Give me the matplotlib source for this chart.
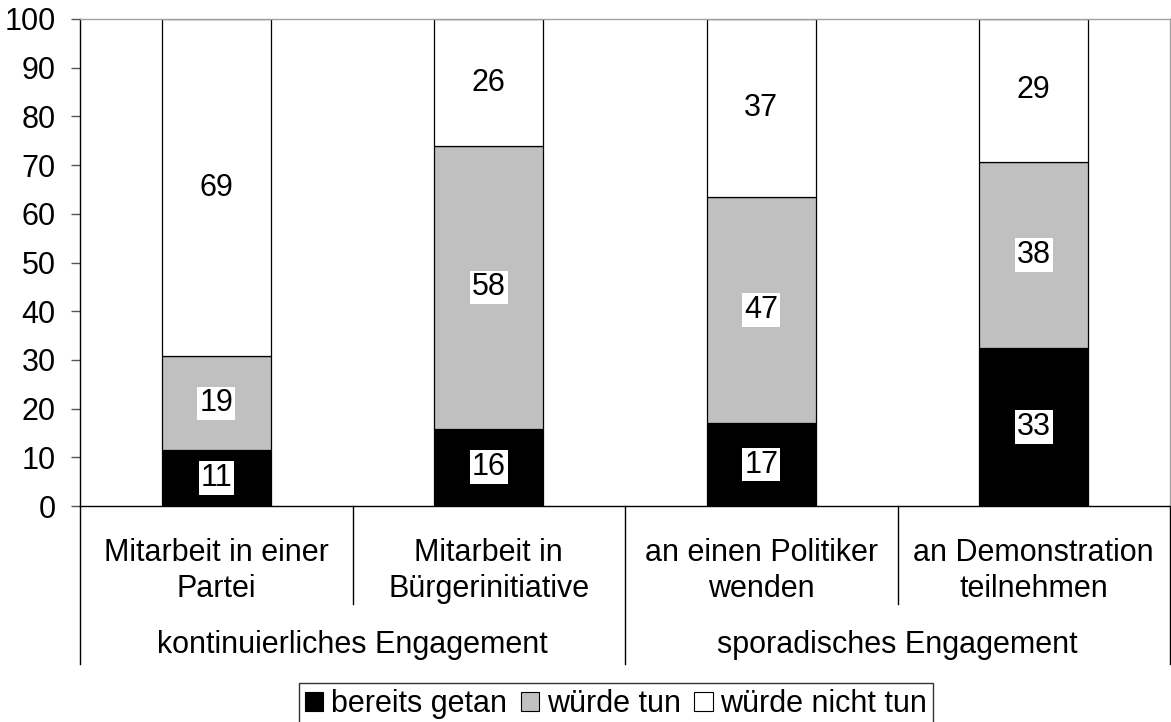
import matplotlib
matplotlib.use("Agg")
import matplotlib.pyplot as plt
from matplotlib.patches import Patch
from matplotlib.lines import Line2D
import matplotlib.transforms as mtransforms

plt.rcParams['font.family'] = ['Liberation Sans', 'DejaVu Sans']

# ---- data ----
categories = ["Mitarbeit in einer\nPartei", "Mitarbeit in\nBürgerinitiative",
              "an einen Politiker\nwenden", "an Demonstration\nteilnehmen"]
groups = ["kontinuierliches Engagement", "sporadisches Engagement"]
series_names = ["bereits getan", "würde tun", "würde nicht tun"]
bereits = [11.4, 15.9, 17.0, 32.5]
wuerde = [19.3, 58.0, 46.4, 38.2]
nicht = [69.3, 26.1, 36.6, 29.3]
bereits_lbl = [11, 16, 17, 33]
wuerde_lbl = [19, 58, 47, 38]
nicht_lbl = [69, 26, 37, 29]
yticks = list(range(0, 101, 10))

colors = ["#000000", "#c0c0c0", "#ffffff"]
FS = 22

fig = plt.figure(figsize=(11.71, 7.22), dpi=100)
ax = fig.add_axes([80/1171, 1-506/722, 1090/1171, 487/722])

x = list(range(len(categories)))
w = 0.4
bottom = [0]*len(x)
for vals, lbls, c in zip([bereits, wuerde, nicht], [bereits_lbl, wuerde_lbl, nicht_lbl], colors):
    ax.bar(x, vals, w, bottom=bottom, color=c, edgecolor="black", linewidth=0.9, zorder=2)
    for xi, v, b, l in zip(x, vals, bottom, lbls):
        ax.text(xi, b + v/2, str(l), ha="center", va="center", fontsize=FS, zorder=3,
                bbox=dict(boxstyle="square,pad=0.06", fc="white", ec="none"))
    bottom = [b + v for b, v in zip(bottom, vals)]

ax.set_xlim(-0.5, len(x)-0.5)
ax.set_ylim(0, 100)
ax.set_yticks(yticks)
ax.set_xticks([])
ax.tick_params(axis="y", direction="out", length=6.5, width=1, color="#555555",
               labelsize=FS, pad=11)
for s in ["left", "bottom"]:
    ax.spines[s].set_color("black")
    ax.spines[s].set_linewidth(1)
for s in ["top", "right"]:
    ax.spines[s].set_color("#a0a0a0")
    ax.spines[s].set_linewidth(1)

trans = mtransforms.blended_transform_factory(ax.transData, ax.transAxes)
inner_depth = -(604-506)/487
outer_depth = -(664-506)/487

# category labels
for xi, cat in zip(x, categories):
    ax.text(xi, -(571-506)/487, cat, transform=trans, ha="center", va="center",
            fontsize=FS, linespacing=1.22)
# inner separators
for xs in [0.5, 2.5]:
    ax.add_line(Line2D([xs, xs], [0, inner_depth], transform=trans, color="black",
                       linewidth=1, clip_on=False))
# outer separators
for xs in [-0.5, 1.5, 3.5]:
    ax.add_line(Line2D([xs, xs], [0, outer_depth], transform=trans, color="black",
                       linewidth=1, clip_on=False))
# group labels
for gi, g in enumerate(groups):
    ax.text(gi*2 + 0.5, -(645-506)/487, g, transform=trans, ha="center", va="center",
            fontsize=FS)

handles = [Patch(facecolor=c, edgecolor="black", linewidth=0.8) for c in colors]
leg = fig.legend(handles, series_names, loc="upper center",
                 bbox_to_anchor=(616/1171, 1-683/722), ncol=3, fontsize=FS,
                 frameon=True, fancybox=False, handlelength=0.6, handleheight=0.6,
                 handletextpad=0.25, columnspacing=0.45, borderpad=0.2,
                 borderaxespad=0)
leg.get_frame().set_edgecolor("black")
leg.get_frame().set_linewidth(1)

fig.savefig("out.png", dpi=100)
